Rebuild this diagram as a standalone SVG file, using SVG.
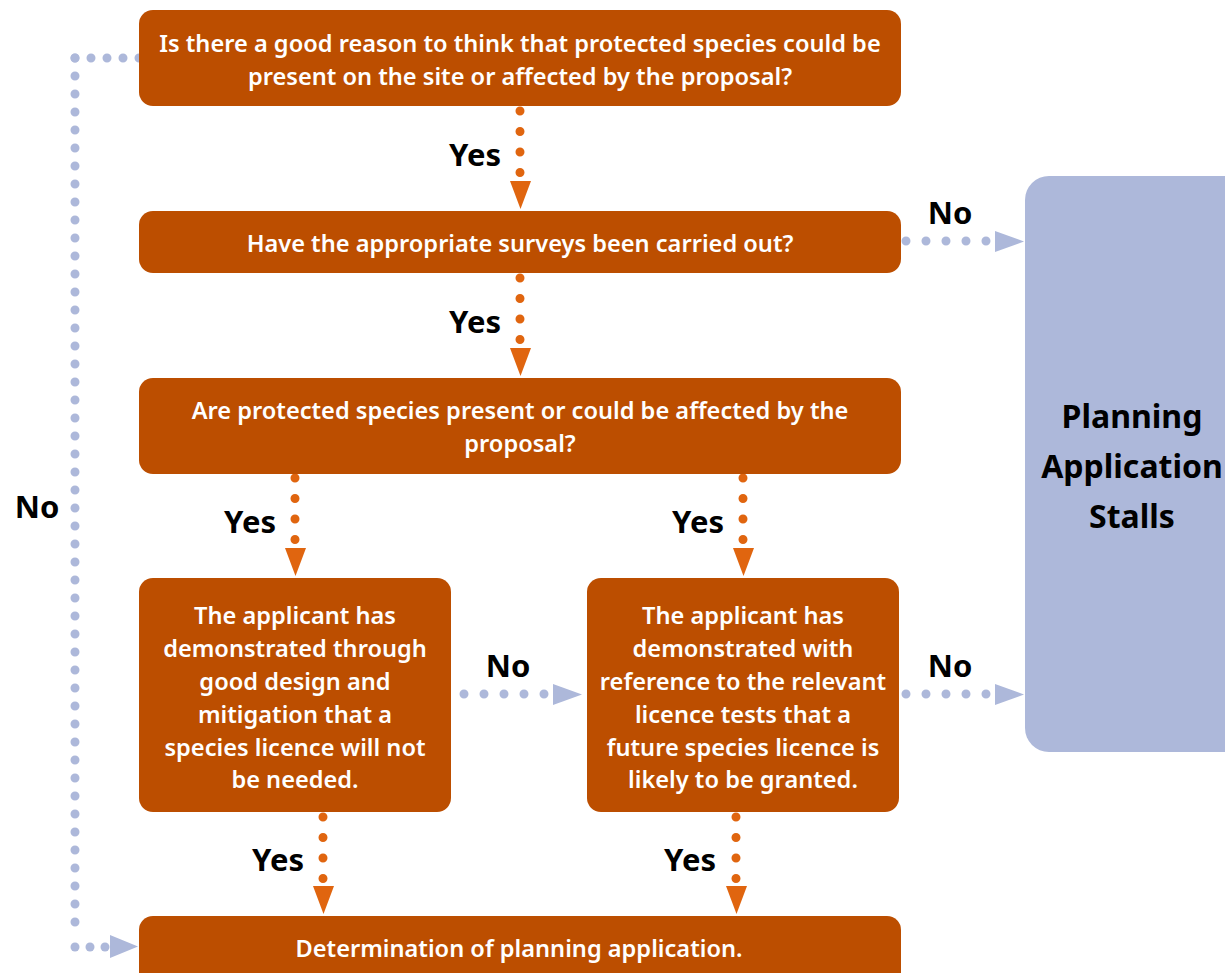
<svg xmlns="http://www.w3.org/2000/svg" width="1225" height="973" viewBox="0 0 1225 973">
<style>
.box{fill:#BC4E00}
.bt{font-family:"Noto Sans","Liberation Sans",sans-serif;font-weight:600;font-size:23.6px;fill:#fff;text-anchor:middle}
.lbl{font-family:"Noto Sans","Liberation Sans",sans-serif;font-weight:700;font-size:31px;fill:#000;text-anchor:middle}
.big{font-family:"Noto Sans","Liberation Sans",sans-serif;font-weight:700;font-size:32px;fill:#000;text-anchor:middle}
.od{stroke:#E0650F;stroke-width:9;stroke-linecap:round;stroke-dasharray:0 20.5;fill:none}
.bd{stroke:#ADB8DA;stroke-width:9;stroke-linecap:round;stroke-dasharray:0 20;fill:none}
.bd2{stroke:#ADB8DA;stroke-width:9;stroke-linecap:round;stroke-dasharray:0 18;fill:none}
.bd3{stroke:#ADB8DA;stroke-width:9;stroke-linecap:round;stroke-dasharray:0 16;fill:none}
.ot{fill:#E0650F}
.btri{fill:#ADB8DA}
</style>
<g id="connectors">
<line class="od" x1="520" y1="111" x2="520" y2="173"/><polygon class="ot" points="510,181 531,181 520.5,209"/>
<line class="od" x1="520" y1="278" x2="520" y2="340"/><polygon class="ot" points="510,348 531,348 520.5,376"/>
<line class="od" x1="295" y1="478" x2="295" y2="540"/><polygon class="ot" points="285,548 306,548 295.5,576"/>
<line class="od" x1="743" y1="478" x2="743" y2="540"/><polygon class="ot" points="733,548 754,548 743.5,576"/>
<line class="od" x1="323" y1="817" x2="323" y2="879"/><polygon class="ot" points="313,886 334,886 323.5,914"/>
<line class="od" x1="736" y1="817" x2="736" y2="879"/><polygon class="ot" points="726,886 747,886 736.5,914"/>
<line class="bd" x1="906" y1="241" x2="986.5" y2="241"/><polygon class="btri" points="995,231 1024,241.5 995,252"/>
<line class="bd" x1="464" y1="694" x2="544.5" y2="694"/><polygon class="btri" points="553,684 582,694.5 553,705"/>
<line class="bd" x1="906" y1="694" x2="986.5" y2="694"/><polygon class="btri" points="995,684 1024,694.5 995,705"/>
<line class="bd3" x1="75" y1="58" x2="139.5" y2="58"/>
<line class="bd2" x1="75" y1="58" x2="75" y2="922.5"/>
<circle cx="75" cy="947" r="4.5" class="btri"/><circle cx="90" cy="947" r="4.5" class="btri"/><circle cx="105" cy="947" r="4.5" class="btri"/>
<polygon class="btri" points="110,935 138,946.5 110,958"/>
<text class="lbl" x="475" y="166">Yes</text>
<text class="lbl" x="475" y="333">Yes</text>
<text class="lbl" x="250" y="533">Yes</text>
<text class="lbl" x="698" y="533">Yes</text>
<text class="lbl" x="278" y="871">Yes</text>
<text class="lbl" x="690" y="871">Yes</text>
<text class="lbl" x="950" y="224">No</text>
<text class="lbl" x="508" y="677">No</text>
<text class="lbl" x="950" y="677">No</text>
<text class="lbl" x="37" y="518">No</text>
</g>
<g id="q1"><rect class="box" x="139" y="10" width="762" height="96" rx="14"/>
<text class="bt" x="520" y="52">Is there a good reason to think that protected species could be</text>
<text class="bt" x="520" y="85">present on the site or affected by the proposal?</text></g>
<g id="q2"><rect class="box" x="139" y="211" width="762" height="62" rx="14"/>
<text class="bt" x="520" y="252">Have the appropriate surveys been carried out?</text></g>
<g id="q3"><rect class="box" x="139" y="378" width="762" height="96" rx="14"/>
<text class="bt" x="520" y="419">Are protected species present or could be affected by the</text>
<text class="bt" x="520" y="452">proposal?</text></g>
<g id="q4"><rect class="box" x="139" y="578" width="312" height="234" rx="14"/>
<text class="bt" x="295" y="624">The applicant has</text>
<text class="bt" x="295" y="657">demonstrated through</text>
<text class="bt" x="295" y="690">good design and</text>
<text class="bt" x="295" y="723">mitigation that a</text>
<text class="bt" x="295" y="756">species licence will not</text>
<text class="bt" x="295" y="788">be needed.</text></g>
<g id="q5"><rect class="box" x="587" y="578" width="312" height="234" rx="14"/>
<text class="bt" x="743" y="624">The applicant has</text>
<text class="bt" x="743" y="657">demonstrated with</text>
<text class="bt" x="743" y="690">reference to the relevant</text>
<text class="bt" x="743" y="723">licence tests that a</text>
<text class="bt" x="743" y="756">future species licence is</text>
<text class="bt" x="743" y="788">likely to be granted.</text></g>
<g id="det"><rect class="box" x="139" y="916" width="762" height="80" rx="14"/>
<text class="bt" x="519" y="957">Determination of planning application.</text></g>
<g id="stalls"><rect x="1025" y="176" width="240" height="576" rx="24" fill="#ADB8DA"/>
<text class="big" x="1132" y="428">Planning</text>
<text class="big" x="1132" y="478">Application</text>
<text class="big" x="1132" y="528">Stalls</text></g>
</svg>
